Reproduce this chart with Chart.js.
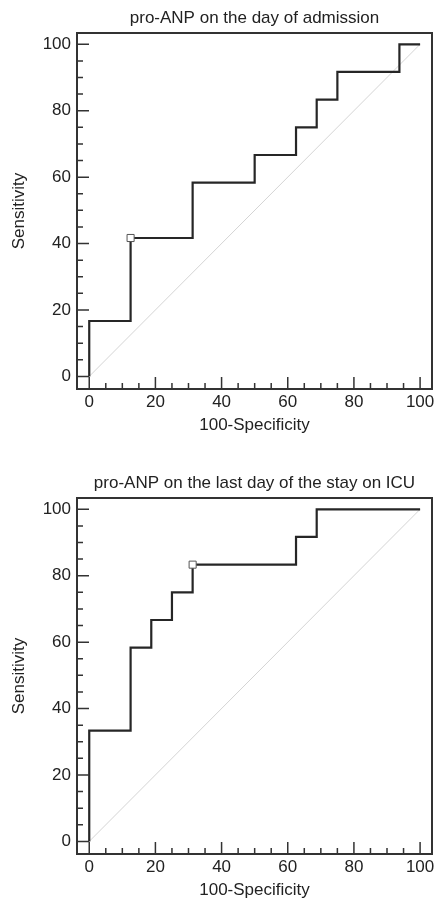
<!DOCTYPE html>
<html>
<head>
<meta charset="utf-8">
<script src="https://cdn.jsdelivr.net/npm/chart.js@4.4.1/dist/chart.umd.min.js"></script>
<style>
  html, body { margin: 0; padding: 0; background: #fff; overflow: hidden; }
  .grafico { position: absolute; left: 0; width: 438px; height: 440px; }
</style>
</head>
<body>
<div class="grafico" style="top:0"><canvas id="roc-admissao"></canvas></div>
<div class="grafico" style="top:465px"><canvas id="roc-ultimo-dia"></canvas></div>
<script>
const titulos = ['pro-ANP on the day of admission', 'pro-ANP on the last day of the stay on ICU'];
const rotuloX = '100-Specificity';
const rotuloY = 'Sensitivity';
const marcasEixo = [0, 20, 40, 60, 80, 100];

// pontos da curva ROC (100-especificidade, sensibilidade)
const fprAdmissao = [0, 0, 12.5, 31.25, 50, 62.5, 68.75, 75, 93.75, 100];
const sensAdmissao = [0, 16.67, 41.67, 58.33, 66.67, 75, 83.33, 91.67, 100, 100];
const criterioAdmissao = [12.5, 41.67];

const fprUltimoDia = [0, 0, 12.5, 18.75, 25, 31.25, 62.5, 68.75, 100];
const sensUltimoDia = [0, 33.33, 58.33, 66.67, 75, 83.33, 91.67, 100, 100];
const criterioUltimoDia = [31.25, 83.33];

const diagonal = [0, 100];

const fonte = { family: "'Liberation Sans', Arial, sans-serif", size: 17 };
const corTexto = '#222';

const moldura = {
    id: 'moldura',
    afterDatasetsDraw(chart) {
        const { ctx, chartArea: a, scales: { x, y } } = chart;
        ctx.save();
        ctx.strokeStyle = '#333';
        ctx.lineWidth = 1.5;
        ctx.beginPath();
        for (let v = 0; v <= 100; v += 5) {
            const tam = v % 20 === 0 ? 12 : 6;
            const px = x.getPixelForValue(v);
            ctx.moveTo(px, a.bottom);
            ctx.lineTo(px, a.bottom - tam);
            const py = y.getPixelForValue(v);
            ctx.moveTo(a.left, py);
            ctx.lineTo(a.left + tam, py);
        }
        ctx.stroke();
        ctx.lineWidth = 2;
        ctx.strokeRect(a.left, a.top, a.right - a.left, a.bottom - a.top);
        ctx.restore();
    }
};

function eixo(min, max, extra) {
    return Object.assign({
        type: 'linear',
        min: min,
        max: max,
        grid: { display: false, drawTicks: false },
        border: { display: false },
        afterBuildTicks: (s) => { s.ticks = marcasEixo.map((v) => ({ value: v })); },
        ticks: { color: corTexto, font: fonte, maxRotation: 0, autoSkip: false },
    }, extra);
}

function criaGrafico(id, titulo, fpr, sens, criterio) {
    const canvas = document.getElementById(id);
    return new Chart(canvas, {
        type: 'line',
        data: {
            datasets: [{
                data: [{ x: criterio[0], y: criterio[1] }],
                showLine: false,
                pointStyle: 'rect',
                pointRadius: 5,
                pointBackgroundColor: '#fff',
                pointBorderColor: '#555',
                pointBorderWidth: 1,
                order: 0
            }, {
                data: fpr.map((v, i) => ({ x: v, y: sens[i] })),
                stepped: 'before',
                borderColor: '#262626',
                borderWidth: 2.2,
                pointRadius: 0,
                order: 1
            }, {
                data: diagonal.map((v) => ({ x: v, y: v })),
                borderColor: '#d4d4d4',
                borderWidth: 1,
                pointRadius: 0,
                order: 2
            }]
        },
        options: {
            responsive: true,
            maintainAspectRatio: false,
            animation: false,
            layout: { padding: { left: 0, right: 4, top: 0, bottom: 0 } },
            plugins: {
                legend: { display: false },
                tooltip: { enabled: false },
                title: {
                    display: true,
                    text: titulo,
                    fullSize: false,
                    color: corTexto,
                    font: Object.assign({}, fonte, { weight: 'normal' }),
                    padding: { top: 8, bottom: 4.6 }
                }
            },
            scales: {
                x: eixo(-3.7, 103.6, {
                    afterFit: (s) => { s.height = 51; },
                    ticks: { color: corTexto, font: fonte, maxRotation: 0, autoSkip: false, padding: 3.5 },
                    title: { display: true, text: rotuloX, color: corTexto, font: fonte, padding: { top: 0, bottom: 4.8 } }
                }),
                y: eixo(-3.8, 103.4, {
                    afterFit: (s) => { s.width = 77; },
                    ticks: { color: corTexto, font: fonte, autoSkip: false, padding: 6 },
                    title: { display: true, text: rotuloY, color: corTexto, font: fonte, padding: { top: 8.8, bottom: 0 } }
                })
            }
        },
        plugins: [moldura]
    });
}

criaGrafico('roc-admissao', titulos[0], fprAdmissao, sensAdmissao, criterioAdmissao);
criaGrafico('roc-ultimo-dia', titulos[1], fprUltimoDia, sensUltimoDia, criterioUltimoDia);
</script>
</body>
</html>
